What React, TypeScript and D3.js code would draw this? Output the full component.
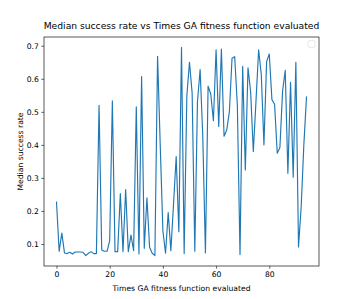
import React, { useRef, useEffect } from 'react';
import * as d3 from 'd3';

// median success rate per evaluation count (index = times evaluated)
const successRates: number[] = [
  0.227, 0.078, 0.133, 0.073, 0.071, 0.075, 0.07, 0.076, 0.076, 0.076,
  0.075, 0.065, 0.072, 0.077, 0.071, 0.071, 0.52, 0.082, 0.078, 0.078,
  0.11, 0.533, 0.077, 0.077, 0.253, 0.077, 0.265, 0.077, 0.127, 0.08,
  0.515, 0.07, 0.607, 0.087, 0.24, 0.09, 0.072, 0.065, 0.668, 0.4,
  0.14, 0.072, 0.195, 0.08, 0.22, 0.365, 0.137, 0.695, 0.071, 0.547,
  0.65, 0.557, 0.078, 0.53, 0.628, 0.427, 0.073, 0.578, 0.554, 0.473,
  0.688, 0.456, 0.69, 0.426, 0.445, 0.5, 0.662, 0.667, 0.52, 0.068,
  0.638, 0.324, 0.633, 0.56, 0.38, 0.531, 0.688, 0.613, 0.4, 0.652,
  0.675, 0.537, 0.523, 0.375, 0.392, 0.562, 0.626, 0.314, 0.589, 0.302,
  0.65, 0.091, 0.213, 0.4, 0.545,
];

const xTicks = [0, 20, 40, 60, 80];
const yTicks = [0.1, 0.2, 0.3, 0.4, 0.5, 0.6, 0.7];

const title = 'Median success rate vs Times GA fitness function evaluated';
const xLabel = 'Times GA fitness function evaluated';
const yLabel = 'Median success rate';

const W = 354;
const H = 299;
const margin = { top: 37, right: 35, bottom: 33, left: 44 };
const FONT = 'DejaVu Sans, sans-serif';

const Chart: React.FC = () => {
  const svgRef = useRef<SVGSVGElement | null>(null);

  useEffect(() => {
    if (!svgRef.current) return;
    const svg = d3.select(svgRef.current);
    svg.selectAll('*').remove();

    const iw = W - margin.left - margin.right;
    const ih = H - margin.top - margin.bottom;

    // matplotlib-style 5% margins
    const n = successRates.length - 1;
    const [lo, hi] = d3.extent(successRates) as [number, number];
    const padY = (hi - lo) * 0.05;

    const x = d3.scaleLinear().domain([-n * 0.05, n * 1.05]).range([0, iw]);
    const y = d3.scaleLinear().domain([lo - padY, hi + padY]).range([ih, 0]);

    const g = svg.append('g').attr('transform', `translate(${margin.left},${margin.top})`);

    const line = d3.line<number>()
      .x((_, i) => x(i))
      .y(d => y(d));

    g.append('path')
      .datum(successRates)
      .attr('fill', 'none')
      .attr('stroke', '#1f77b4')
      .attr('stroke-width', 1.15)
      .attr('stroke-linejoin', 'round')
      .attr('stroke-linecap', 'square')
      .attr('d', line);

    // X axis
    const xAxis = g.append('g')
      .attr('transform', `translate(0,${ih})`)
      .call(d3.axisBottom(x).tickValues(xTicks).tickSize(2.7).tickPadding(2.4).tickFormat(d3.format('d')));
    xAxis.select('.domain').remove();

    // Y axis
    const yAxis = g.append('g')
      .call(d3.axisLeft(y).tickValues(yTicks).tickSize(2.7).tickPadding(2.4).tickFormat(d3.format('.1f')));
    yAxis.select('.domain').remove();

    [xAxis, yAxis].forEach(a => {
      a.selectAll('line').attr('stroke', '#000').attr('stroke-width', 0.6);
      a.selectAll('text').attr('fill', '#000').style('font-family', FONT).style('font-size', '7.65px');
    });

    // frame
    g.append('rect')
      .attr('width', iw)
      .attr('height', ih)
      .attr('fill', 'none')
      .attr('stroke', '#000')
      .attr('stroke-width', 0.65);

    // empty legend box
    g.append('rect')
      .attr('x', iw - 11)
      .attr('y', 3.8)
      .attr('width', 7)
      .attr('height', 6.5)
      .attr('rx', 1)
      .attr('fill', '#fff')
      .attr('fill-opacity', 0.8)
      .attr('stroke', '#d6d6d6')
      .attr('stroke-width', 0.6);

    svg.append('text')
      .attr('x', margin.left + iw / 2)
      .attr('y', 29)
      .attr('text-anchor', 'middle')
      .style('font-family', FONT)
      .style('font-size', '9.18px')
      .text(title);

    svg.append('text')
      .attr('x', margin.left + iw / 2)
      .attr('y', 290.5)
      .attr('text-anchor', 'middle')
      .style('font-family', FONT)
      .style('font-size', '7.65px')
      .text(xLabel);

    svg.append('text')
      .attr('transform', `translate(22.5,${margin.top + ih / 2}) rotate(-90)`)
      .attr('text-anchor', 'middle')
      .style('font-family', FONT)
      .style('font-size', '7.65px')
      .text(yLabel);
  }, []);

  return (
    <svg
      ref={svgRef}
      width={W}
      height={H}
      style={{ position: 'absolute', left: 0, top: 0, background: '#fff' }}
    />
  );
};

export default function App() {
  return <Chart />;
}
